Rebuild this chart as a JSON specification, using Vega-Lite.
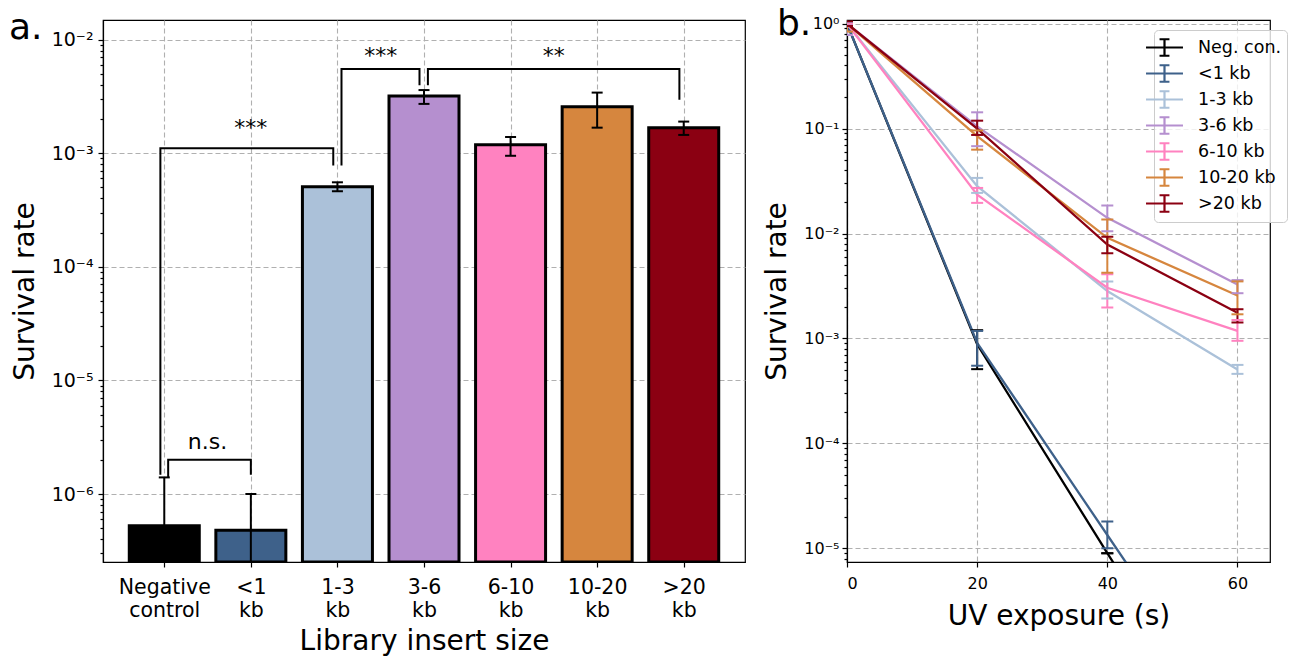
{
  "$schema": "https://vega.github.io/schema/vega-lite/v6.json",
  "padding": {"left": 8, "top": 5, "right": 5, "bottom": 5},
  "background": "white",
  "config": {
    "font": "DejaVu Sans",
    "view": {"stroke": "#000000", "strokeWidth": 1.2},
    "axis": {
      "domainColor": "#000000", "domainWidth": 1.2,
      "tickColor": "#000000", "tickWidth": 1.2, "tickSize": 5,
      "labelColor": "#000000", "titleColor": "#000000",
      "titleFontWeight": "normal", "titleFontSize": 28,
      "gridColor": "#b0b0b0", "gridDash": [5, 3], "gridWidth": 1.1
    },
    "concat": {"spacing": 17}
  },
  "resolve": {"scale": {"color": "independent", "x": "independent", "y": "independent"}, "legend": {"color": "independent"}},
  "datasets": {
    "bars": [
      {"i": 0, "group": "Negative control", "rate": 5.26e-7, "lo": 1e-7, "hi": 1.40e-6},
      {"i": 1, "group": "<1 kb", "rate": 4.79e-7, "lo": 1e-7, "hi": 1.0e-6},
      {"i": 2, "group": "1-3 kb", "rate": 5.08e-4, "lo": 4.63e-4, "hi": 5.55e-4},
      {"i": 3, "group": "3-6 kb", "rate": 3.19e-3, "lo": 2.72e-3, "hi": 3.6e-3},
      {"i": 4, "group": "6-10 kb", "rate": 1.19e-3, "lo": 0.95e-3, "hi": 1.39e-3},
      {"i": 5, "group": "10-20 kb", "rate": 2.57e-3, "lo": 1.68e-3, "hi": 3.42e-3},
      {"i": 6, "group": ">20 kb", "rate": 1.68e-3, "lo": 1.45e-3, "hi": 1.90e-3}
    ],
    "brackets": [
      {"b": "B1", "o": 1, "x": -0.045, "y": 1.48e-6},
      {"b": "B1", "o": 2, "x": -0.045, "y": 1.107e-3},
      {"b": "B1", "o": 3, "x": 1.952, "y": 1.107e-3},
      {"b": "B1", "o": 4, "x": 1.952, "y": 7.8e-4},
      {"b": "B2", "o": 1, "x": 2.047, "y": 7.8e-4},
      {"b": "B2", "o": 2, "x": 2.047, "y": 5.52e-3},
      {"b": "B2", "o": 3, "x": 2.948, "y": 5.52e-3},
      {"b": "B2", "o": 4, "x": 2.948, "y": 3.97e-3},
      {"b": "B3", "o": 1, "x": 3.045, "y": 3.97e-3},
      {"b": "B3", "o": 2, "x": 3.045, "y": 5.52e-3},
      {"b": "B3", "o": 3, "x": 5.95, "y": 5.52e-3},
      {"b": "B3", "o": 4, "x": 5.95, "y": 2.96e-3},
      {"b": "B4", "o": 1, "x": 0.045, "y": 1.40e-6},
      {"b": "B4", "o": 2, "x": 0.045, "y": 2.0e-6},
      {"b": "B4", "o": 3, "x": 1.0, "y": 2.0e-6},
      {"b": "B4", "o": 4, "x": 1.0, "y": 1.48e-6}
    ],
    "sig": [
      {"x": 1.0, "y": 1.45e-3, "label": "***"},
      {"x": 2.5, "y": 6.17e-3, "label": "***"},
      {"x": 4.5, "y": 6.17e-3, "label": "**"},
      {"x": 0.5, "y": 2.51e-6, "label": "n.s."}
    ],
    "uv": [
      {"series": "Neg. con.", "t": 0, "v": 1, "lo": 1, "hi": 1},
      {"series": "Neg. con.", "t": 20, "v": 8.8e-4, "lo": 5.1e-4, "hi": 1.2e-3},
      {"series": "Neg. con.", "t": 40, "v": 9.0e-6, "lo": 9.0e-6, "hi": 9.0e-6},
      {"series": "Neg. con.", "t": 60, "v": 1e-7, "lo": 1e-7, "hi": 1e-7},
      {"series": "<1 kb", "t": 0, "v": 1, "lo": 1, "hi": 1},
      {"series": "<1 kb", "t": 20, "v": 9.1e-4, "lo": 5.5e-4, "hi": 1.18e-3},
      {"series": "<1 kb", "t": 40, "v": 1.34e-5, "lo": 1.0e-5, "hi": 1.8e-5},
      {"series": "<1 kb", "t": 60, "v": 2e-7, "lo": 2e-7, "hi": 2e-7},
      {"series": "1-3 kb", "t": 0, "v": 1, "lo": 1, "hi": 1},
      {"series": "1-3 kb", "t": 20, "v": 0.0283, "lo": 0.0244, "hi": 0.0339},
      {"series": "1-3 kb", "t": 40, "v": 0.00283, "lo": 0.0024, "hi": 0.0035},
      {"series": "1-3 kb", "t": 60, "v": 5.07e-4, "lo": 4.6e-4, "hi": 5.6e-4},
      {"series": "3-6 kb", "t": 0, "v": 1, "lo": 0.78, "hi": 1.0},
      {"series": "3-6 kb", "t": 20, "v": 0.105, "lo": 0.068, "hi": 0.143},
      {"series": "3-6 kb", "t": 40, "v": 0.0141, "lo": 0.0105, "hi": 0.0185},
      {"series": "3-6 kb", "t": 60, "v": 0.00327, "lo": 0.0027, "hi": 0.0036},
      {"series": "6-10 kb", "t": 0, "v": 1, "lo": 1, "hi": 1},
      {"series": "6-10 kb", "t": 20, "v": 0.0235, "lo": 0.0196, "hi": 0.0272},
      {"series": "6-10 kb", "t": 40, "v": 0.00304, "lo": 0.00197, "hi": 0.0041},
      {"series": "6-10 kb", "t": 60, "v": 1.18e-3, "lo": 9.5e-4, "hi": 1.5e-3},
      {"series": "10-20 kb", "t": 0, "v": 1, "lo": 0.84, "hi": 1.0},
      {"series": "10-20 kb", "t": 20, "v": 0.0847, "lo": 0.063, "hi": 0.096},
      {"series": "10-20 kb", "t": 40, "v": 0.0091, "lo": 0.00424, "hi": 0.0136},
      {"series": "10-20 kb", "t": 60, "v": 0.00257, "lo": 0.0017, "hi": 0.0035},
      {"series": ">20 kb", "t": 0, "v": 1, "lo": 0.95, "hi": 1.05},
      {"series": ">20 kb", "t": 20, "v": 0.100, "lo": 0.087, "hi": 0.119},
      {"series": ">20 kb", "t": 40, "v": 0.00786, "lo": 0.0065, "hi": 0.0093},
      {"series": ">20 kb", "t": 60, "v": 1.76e-3, "lo": 1.42e-3, "hi": 1.9e-3}
    ]
  },
  "hconcat": [
    {
      "width": 642,
      "height": 542,
      "title": {"text": "a.", "anchor": "start", "frame": "group", "fontSize": 36, "fontWeight": "normal", "color": "#000000", "dx": -94, "dy": 42, "baseline": "alphabetic", "offset": -13},
      "layer": [
        {
          "data": {"name": "bars"},
          "mark": {"type": "bar", "orient": "vertical", "size": 70, "stroke": "#000000", "strokeWidth": 3, "opacity": 1, "clip": true},
          "encoding": {
            "x": {
              "field": "i", "type": "quantitative",
              "scale": {"domain": [-0.65, 6.65], "nice": false, "zero": false},
              "axis": {
                "values": [0, 1, 2, 3, 4, 5, 6],
                "labelExpr": "[['Negative','control'],['<1','kb'],['1-3','kb'],['3-6','kb'],['6-10','kb'],['10-20','kb'],['>20','kb']][datum.value]",
                "labelFontSize": 20.5, "labelLineHeight": 23.5, "labelPadding": 10,
                "grid": true, "title": "Library insert size", "titlePadding": 6
              }
            },
            "y": {
              "field": "rate", "type": "quantitative",
              "scale": {"type": "log", "domain": [2.52e-7, 1.49e-2], "nice": false},
              "axis": {
                "values": [3e-7, 4e-7, 5e-7, 6e-7, 7e-7, 8e-7, 9e-7, 1e-6, 2e-6, 3e-6, 4e-6, 5e-6, 6e-6, 7e-6, 8e-6, 9e-6, 1e-5, 2e-5, 3e-5, 4e-5, 5e-5, 6e-5, 7e-5, 8e-5, 9e-5, 1e-4, 2e-4, 3e-4, 4e-4, 5e-4, 6e-4, 7e-4, 8e-4, 9e-4, 1e-3, 2e-3, 3e-3, 4e-3, 5e-3, 6e-3, 7e-3, 8e-3, 9e-3, 1e-2],
                "labelExpr": "abs(log(datum.value)/LN10 - round(log(datum.value)/LN10)) < 0.01 ? '10' + (round(log(datum.value)/LN10) < 0 ? '⁻' : '') + substring('⁰¹²³⁴⁵⁶⁷⁸⁹', abs(round(log(datum.value)/LN10)), abs(round(log(datum.value)/LN10)) + 1) : ''",
                "labelFontSize": 19, "labelPadding": 5,
                "tickSize": {"condition": {"test": "abs(log(datum.value)/LN10 - round(log(datum.value)/LN10)) < 0.01", "value": 5}, "value": 3},
                "gridOpacity": {"condition": {"test": "abs(log(datum.value)/LN10 - round(log(datum.value)/LN10)) < 0.01", "value": 1}, "value": 0},
                "grid": true, "title": "Survival rate", "titlePadding": 12
              }
            },
            "y2": {"datum": 2.52e-7},
            "color": {
              "field": "group", "type": "nominal",
              "scale": {"domain": ["Negative control", "<1 kb", "1-3 kb", "3-6 kb", "6-10 kb", "10-20 kb", ">20 kb"], "range": ["#000000", "#3e618a", "#abc1d9", "#b58fcf", "#ff82c0", "#d6863e", "#8b0012"]},
              "legend": null
            }
          }
        },
        {
          "data": {"name": "bars"},
          "mark": {"type": "rule", "color": "#000000", "strokeWidth": 2, "clip": true},
          "encoding": {
            "x": {"field": "i", "type": "quantitative"},
            "y": {"field": "lo", "type": "quantitative"},
            "y2": {"field": "hi"}
          }
        },
        {
          "data": {"name": "bars"},
          "mark": {"type": "tick", "orient": "horizontal", "color": "#000000", "size": 11, "thickness": 2, "opacity": 1, "clip": true},
          "encoding": {
            "x": {"field": "i", "type": "quantitative"},
            "y": {"field": "hi", "type": "quantitative"}
          }
        },
        {
          "data": {"name": "bars"},
          "mark": {"type": "tick", "orient": "horizontal", "color": "#000000", "size": 11, "thickness": 2, "opacity": 1, "clip": true},
          "encoding": {
            "x": {"field": "i", "type": "quantitative"},
            "y": {"field": "lo", "type": "quantitative"}
          }
        },
        {
          "data": {"name": "brackets"},
          "mark": {"type": "line", "color": "#000000", "strokeWidth": 2},
          "encoding": {
            "x": {"field": "x", "type": "quantitative"},
            "y": {"field": "y", "type": "quantitative"},
            "detail": {"field": "b"},
            "order": {"field": "o"}
          }
        },
        {
          "data": {"name": "sig"},
          "mark": {"type": "text", "fontSize": 22, "color": "#000000", "baseline": "alphabetic", "align": "center"},
          "encoding": {
            "x": {"field": "x", "type": "quantitative"},
            "y": {"field": "y", "type": "quantitative"},
            "text": {"field": "label"}
          }
        }
      ]
    },
    {
      "width": 423,
      "height": 542,
      "title": {"text": "b.", "anchor": "start", "frame": "group", "fontSize": 36, "fontWeight": "normal", "color": "#000000", "dx": -70, "dy": 42, "baseline": "alphabetic", "offset": -13},
      "layer": [
        {
          "data": {"name": "uv"},
          "mark": {"type": "line", "strokeWidth": 2.3, "clip": true},
          "encoding": {
            "x": {
              "field": "t", "type": "quantitative",
              "scale": {"domain": [0, 65], "nice": false, "zero": false},
              "axis": {"values": [0, 20, 40, 60], "labelFontSize": 16, "labelPadding": 8, "grid": true, "title": "UV exposure (s)", "titlePadding": 11}
            },
            "y": {
              "field": "v", "type": "quantitative",
              "scale": {"type": "log", "domain": [7.41e-6, 1.084], "nice": false},
              "axis": {
                "values": [8e-6, 9e-6, 1e-5, 2e-5, 3e-5, 4e-5, 5e-5, 6e-5, 7e-5, 8e-5, 9e-5, 1e-4, 2e-4, 3e-4, 4e-4, 5e-4, 6e-4, 7e-4, 8e-4, 9e-4, 1e-3, 2e-3, 3e-3, 4e-3, 5e-3, 6e-3, 7e-3, 8e-3, 9e-3, 1e-2, 2e-2, 3e-2, 4e-2, 5e-2, 6e-2, 7e-2, 8e-2, 9e-2, 0.1, 0.2, 0.3, 0.4, 0.5, 0.6, 0.7, 0.8, 0.9, 1],
                "labelExpr": "abs(log(datum.value)/LN10 - round(log(datum.value)/LN10)) < 0.01 ? '10' + (round(log(datum.value)/LN10) < 0 ? '⁻' : '') + substring('⁰¹²³⁴⁵⁶⁷⁸⁹', abs(round(log(datum.value)/LN10)), abs(round(log(datum.value)/LN10)) + 1) : ''",
                "labelFontSize": 16, "labelPadding": 3,
                "tickSize": {"condition": {"test": "abs(log(datum.value)/LN10 - round(log(datum.value)/LN10)) < 0.01", "value": 5}, "value": 3},
                "gridOpacity": {"condition": {"test": "abs(log(datum.value)/LN10 - round(log(datum.value)/LN10)) < 0.01", "value": 1}, "value": 0},
                "grid": true, "title": "Survival rate", "titlePadding": 12
              }
            },
            "color": {
              "field": "series", "type": "nominal",
              "scale": {"domain": ["Neg. con.", "<1 kb", "1-3 kb", "3-6 kb", "6-10 kb", "10-20 kb", ">20 kb"], "range": ["#000000", "#3e618a", "#abc1d9", "#b58fcf", "#ff82c0", "#d6863e", "#8b0012"]},
              "legend": {
                "title": null, "orient": "none", "legendX": 307, "legendY": 10,
                "symbolType": "M-1.68,0H1.68M0,-0.75V0.75M-0.45,-0.75H0.45M-0.45,0.75H0.45",
                "symbolSize": 484, "symbolStrokeWidth": 2.2, "symbolFillColor": "transparent", "symbolOpacity": 1, "symbolOffset": -7,
                "labelFontSize": 17.5, "labelColor": "#000000", "labelOffset": 21,
                "rowPadding": -1.5, "padding": 5,
                "fillColor": "rgba(255,255,255,0.8)", "strokeColor": "#cccccc", "cornerRadius": 4
              }
            }
          }
        },
        {
          "data": {"name": "uv"},
          "mark": {"type": "rule", "strokeWidth": 2, "opacity": 1, "clip": true},
          "encoding": {
            "x": {"field": "t", "type": "quantitative"},
            "y": {"field": "lo", "type": "quantitative"},
            "y2": {"field": "hi"},
            "color": {"field": "series", "type": "nominal"}
          }
        },
        {
          "data": {"name": "uv"},
          "mark": {"type": "tick", "orient": "horizontal", "size": 12, "thickness": 2, "opacity": 1, "clip": true},
          "encoding": {
            "x": {"field": "t", "type": "quantitative"},
            "y": {"field": "hi", "type": "quantitative"},
            "color": {"field": "series", "type": "nominal"}
          }
        },
        {
          "data": {"name": "uv"},
          "mark": {"type": "tick", "orient": "horizontal", "size": 12, "thickness": 2, "opacity": 1, "clip": true},
          "encoding": {
            "x": {"field": "t", "type": "quantitative"},
            "y": {"field": "lo", "type": "quantitative"},
            "color": {"field": "series", "type": "nominal"}
          }
        }
      ]
    }
  ]
}
